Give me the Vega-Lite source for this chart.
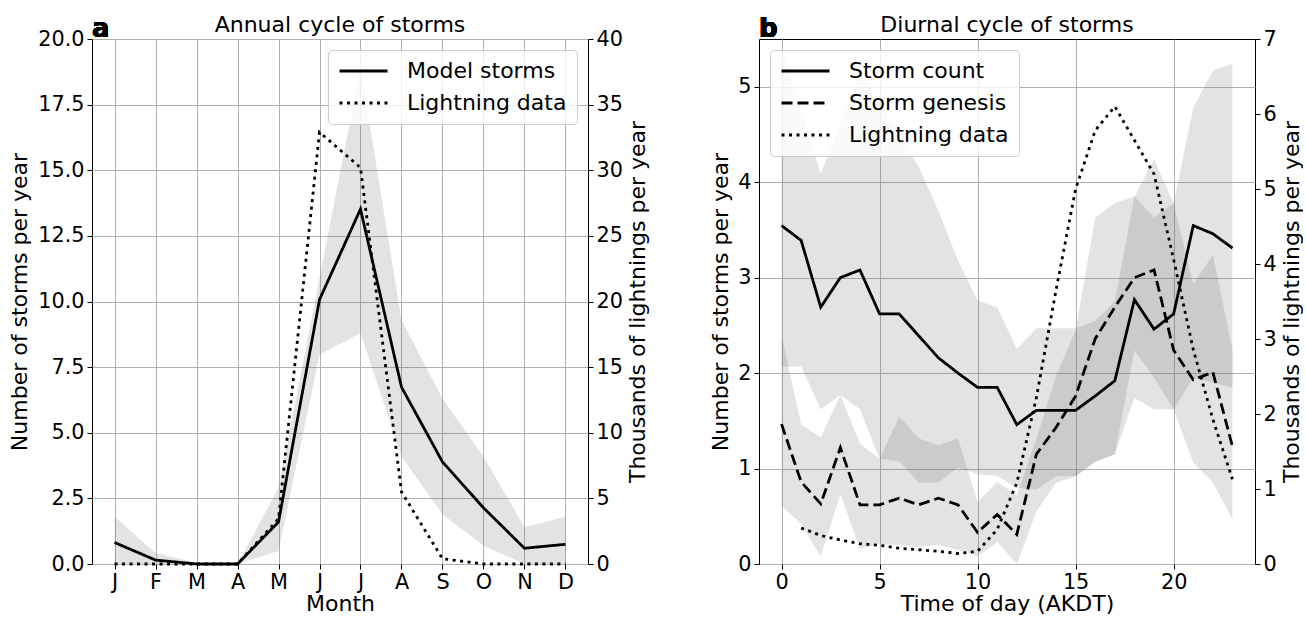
{
  "$schema": "https://vega.github.io/schema/vega-lite/v6.json",
  "padding": {"left": 8, "top": 13, "right": 0, "bottom": 0},
  "config": {
    "font": "DejaVu Sans",
    "view": {"stroke": "black", "strokeWidth": 1},
    "axis": {
      "labelFont": "DejaVu Sans", "labelFontSize": 20.8, "labelColor": "black",
      "titleFont": "DejaVu Sans", "titleFontSize": 22, "titleFontWeight": "normal", "titleColor": "black",
      "tickColor": "black", "tickSize": 5, "tickWidth": 1, "labelPadding": 3,
      "domain": false, "gridColor": "#b0b0b0", "gridWidth": 1, "labelFlush": false, "labelOverlap": false
    },
    "legend": {
      "fillColor": "rgba(255,255,255,0.8)", "strokeColor": "#cccccc", "cornerRadius": 4, "padding": 10,
      "labelFont": "DejaVu Sans", "labelFontSize": 22, "labelColor": "black",
      "symbolType": "stroke", "symbolStrokeColor": "black", "symbolStrokeWidth": 2.8, "symbolSize": 2304,
      "clipHeight": 22, "labelOffset": 18, "rowPadding": 10, "offset": 11
    },
    "title": {"font": "DejaVu Sans", "fontSize": 22, "fontWeight": "normal", "color": "black", "offset": -21}
  },
  "spacing": 60,
  "resolve": {"scale": {"x": "independent", "y": "independent", "strokeDash": "independent"}, "legend": {"strokeDash": "independent"}},
  "hconcat": [
    {
      "width": 496, "height": 525,
      "title": {"text": "Annual cycle of storms"},
      "data": {"values": [
        {"month": 0, "storms": 0.82, "lo": 0, "hi": 1.8, "lightning": 0},
        {"month": 1, "storms": 0.15, "lo": 0, "hi": 0.42, "lightning": 0},
        {"month": 2, "storms": 0, "lo": 0, "hi": 0.05, "lightning": 0},
        {"month": 3, "storms": 0, "lo": 0, "hi": 0, "lightning": 0},
        {"month": 4, "storms": 1.6, "lo": 0.5, "hi": 2.9, "lightning": 3.44},
        {"month": 5, "storms": 10.07, "lo": 7.97, "hi": 10.9, "lightning": 32.9},
        {"month": 6, "storms": 13.52, "lo": 8.8, "hi": 18.9, "lightning": 30.2},
        {"month": 7, "storms": 6.74, "lo": 4.1, "hi": 9.3, "lightning": 5.5},
        {"month": 8, "storms": 3.89, "lo": 1.9, "hi": 6.3, "lightning": 0.4},
        {"month": 9, "storms": 2.14, "lo": 0.7, "hi": 4.1, "lightning": 0},
        {"month": 10, "storms": 0.6, "lo": 0, "hi": 1.4, "lightning": 0},
        {"month": 11, "storms": 0.75, "lo": 0, "hi": 1.8, "lightning": 0}
      ]},
      "resolve": {"scale": {"y": "independent"}},
      "layer": [
        {
          "layer": [
            {
              "mark": {"type": "area", "color": "#6e7373", "opacity": 0.2},
              "encoding": {
                "x": {"field": "month", "type": "quantitative", "scale": {"domain": [-0.55, 11.55], "nice": false, "zero": false},
                      "axis": {"values": [0,1,2,3,4,5,6,7,8,9,10,11], "labelExpr": "['J','F','M','A','M','J','J','A','S','O','N','D'][datum.value]", "title": "Month", "titlePadding": 2, "grid": true}},
                "y": {"field": "lo", "type": "quantitative", "scale": {"domain": [0, 20], "nice": false},
                      "axis": {"values": [0,2.5,5,7.5,10,12.5,15,17.5,20], "format": ".1f", "title": "Number of storms per year", "titlePadding": 6, "grid": true}},
                "y2": {"field": "hi"}
              }
            },
            {
              "mark": {"type": "line", "color": "black", "strokeWidth": 2.8},
              "encoding": {
                "x": {"field": "month", "type": "quantitative"},
                "y": {"field": "storms", "type": "quantitative"},
                "strokeDash": {"datum": "Model storms", "type": "nominal",
                  "scale": {"domain": ["Model storms", "Lightning data"], "range": [[1, 0], [3, 4.5]]},
                  "legend": {"title": null, "orient": "top-right"}}
              }
            },
            {
              "mark": {"type": "text", "text": "a", "fontSize": 26, "fontWeight": "bold", "align": "left", "baseline": "bottom", "dy": 3, "color": "black"},
              "encoding": {"x": {"datum": -0.55}, "y": {"datum": 20}}
            }
          ]
        },
        {
          "mark": {"type": "line", "color": "black", "strokeWidth": 2.8},
          "encoding": {
            "x": {"field": "month", "type": "quantitative"},
            "y": {"field": "lightning", "type": "quantitative", "scale": {"domain": [0, 40], "nice": false},
                  "axis": {"orient": "right", "values": [0,5,10,15,20,25,30,35,40], "title": "Thousands of lightnings per year", "titleAngle": 270, "titleBaseline": "top", "titlePadding": 5, "grid": false}},
            "strokeDash": {"datum": "Lightning data", "type": "nominal"}
          }
        }
      ]
    },
    {
      "width": 496, "height": 525,
      "title": {"text": "Diurnal cycle of storms"},
      "data": {"values": [
        {"hour": 0, "count": 3.545, "genesis": 1.465, "lightning": null, "clo": 2.07, "chi": 5.4, "glo": 0.61, "ghi": 2.39},
        {"hour": 1, "count": 3.39, "genesis": 0.86, "lightning": 0.48, "clo": 2.07, "chi": 4.75, "glo": 0.42, "ghi": 1.465},
        {"hour": 2, "count": 2.69, "genesis": 0.63, "lightning": 0.38, "clo": 1.62, "chi": 4.09, "glo": 0.08, "ghi": 1.325},
        {"hour": 3, "count": 3.0, "genesis": 1.22, "lightning": 0.32, "clo": 1.77, "chi": 4.6, "glo": 0.73, "ghi": 1.77},
        {"hour": 4, "count": 3.08, "genesis": 0.62, "lightning": 0.27, "clo": 1.62, "chi": 5.14, "glo": 0.16, "ghi": 1.26},
        {"hour": 5, "count": 2.62, "genesis": 0.62, "lightning": 0.25, "clo": 1.1, "chi": 4.81, "glo": 0.21, "ghi": 1.1},
        {"hour": 6, "count": 2.62, "genesis": 0.69, "lightning": 0.21, "clo": 1.08, "chi": 4.5, "glo": 0.2, "ghi": 1.545},
        {"hour": 7, "count": 2.39, "genesis": 0.62, "lightning": 0.19, "clo": 0.855, "chi": 4.16, "glo": 0.18, "ghi": 1.315},
        {"hour": 8, "count": 2.16, "genesis": 0.69, "lightning": 0.17, "clo": 0.855, "chi": 3.7, "glo": 0.2, "ghi": 1.245},
        {"hour": 9, "count": 2.0, "genesis": 0.62, "lightning": 0.14, "clo": 1.01, "chi": 3.18, "glo": 0.15, "ghi": 1.315},
        {"hour": 10, "count": 1.85, "genesis": 0.33, "lightning": 0.17, "clo": 0.94, "chi": 2.76, "glo": 0.08, "ghi": 0.65},
        {"hour": 11, "count": 1.85, "genesis": 0.52, "lightning": 0.46, "clo": 0.925, "chi": 2.69, "glo": 0.23, "ghi": 0.86},
        {"hour": 12, "count": 1.46, "genesis": 0.31, "lightning": 1.08, "clo": 0.8, "chi": 2.25, "glo": 0.0, "ghi": 0.72},
        {"hour": 13, "count": 1.61, "genesis": 1.15, "lightning": 2.22, "clo": 0.78, "chi": 2.47, "glo": 0.55, "ghi": 1.31},
        {"hour": 14, "count": 1.61, "genesis": 1.43, "lightning": 3.65, "clo": 0.92, "chi": 2.47, "glo": 0.85, "ghi": 1.97},
        {"hour": 15, "count": 1.61, "genesis": 1.76, "lightning": 5.0, "clo": 0.92, "chi": 2.47, "glo": 0.92, "ghi": 2.45},
        {"hour": 16, "count": 1.76, "genesis": 2.36, "lightning": 5.78, "clo": 1.07, "chi": 2.545, "glo": 1.07, "ghi": 3.63},
        {"hour": 17, "count": 1.92, "genesis": 2.69, "lightning": 6.1, "clo": 1.15, "chi": 2.75, "glo": 1.15, "ghi": 3.78},
        {"hour": 18, "count": 2.77, "genesis": 3.0, "lightning": 5.65, "clo": 1.74, "chi": 3.85, "glo": 2.24, "ghi": 3.85},
        {"hour": 19, "count": 2.46, "genesis": 3.08, "lightning": 5.2, "clo": 1.62, "chi": 3.63, "glo": 1.95, "ghi": 4.24},
        {"hour": 20, "count": 2.62, "genesis": 2.24, "lightning": 4.06, "clo": 1.62, "chi": 3.78, "glo": 1.62, "ghi": 3.78},
        {"hour": 21, "count": 3.545, "genesis": 1.93, "lightning": 2.86, "clo": 1.95, "chi": 4.78, "glo": 1.06, "ghi": 2.93},
        {"hour": 22, "count": 3.46, "genesis": 2.01, "lightning": 1.93, "clo": 1.9, "chi": 5.17, "glo": 0.85, "ghi": 3.24},
        {"hour": 23, "count": 3.31, "genesis": 1.23, "lightning": 1.13, "clo": 1.85, "chi": 5.24, "glo": 0.47, "ghi": 2.25}
      ]},
      "resolve": {"scale": {"y": "independent"}},
      "layer": [
        {
          "layer": [
            {
              "mark": {"type": "area", "color": "#6e7373", "opacity": 0.2},
              "encoding": {
                "x": {"field": "hour", "type": "quantitative", "scale": {"domain": [-1.15, 24.15], "nice": false, "zero": false},
                      "axis": {"values": [0,5,10,15,20], "format": "d", "title": "Time of day (AKDT)", "titlePadding": 2, "grid": true}},
                "y": {"field": "clo", "type": "quantitative", "scale": {"domain": [0, 5.5], "nice": false},
                      "axis": {"values": [0,1,2,3,4,5], "format": "d", "title": "Number of storms per year", "titlePadding": 5, "grid": true}},
                "y2": {"field": "chi"}
              }
            },
            {
              "mark": {"type": "area", "color": "#6e7373", "opacity": 0.2},
              "encoding": {
                "x": {"field": "hour", "type": "quantitative"},
                "y": {"field": "glo", "type": "quantitative"},
                "y2": {"field": "ghi"}
              }
            },
            {
              "mark": {"type": "line", "color": "black", "strokeWidth": 2.8},
              "encoding": {
                "x": {"field": "hour", "type": "quantitative"},
                "y": {"field": "count", "type": "quantitative"},
                "strokeDash": {"datum": "Storm count", "type": "nominal",
                  "scale": {"domain": ["Storm count", "Storm genesis", "Lightning data"], "range": [[1, 0], [11, 5], [3, 4.5]]},
                  "legend": {"title": null, "orient": "top-left"}}
              }
            },
            {
              "mark": {"type": "line", "color": "black", "strokeWidth": 2.8},
              "encoding": {
                "x": {"field": "hour", "type": "quantitative"},
                "y": {"field": "genesis", "type": "quantitative"},
                "strokeDash": {"datum": "Storm genesis", "type": "nominal"}
              }
            },
            {
              "mark": {"type": "text", "text": "b", "fontSize": 26, "fontWeight": "bold", "align": "left", "baseline": "bottom", "dy": 3, "color": "black"},
              "encoding": {"x": {"datum": -1.15}, "y": {"datum": 5.5}}
            }
          ]
        },
        {
          "mark": {"type": "line", "color": "black", "strokeWidth": 2.8},
          "encoding": {
            "x": {"field": "hour", "type": "quantitative"},
            "y": {"field": "lightning", "type": "quantitative", "scale": {"domain": [0, 7], "nice": false},
                  "axis": {"orient": "right", "values": [0,1,2,3,4,5,6,7], "format": "d", "title": "Thousands of lightnings per year", "titleAngle": 270, "titleBaseline": "top", "titlePadding": 5, "grid": false}},
            "strokeDash": {"datum": "Lightning data", "type": "nominal"}
          }
        }
      ]
    }
  ]
}
